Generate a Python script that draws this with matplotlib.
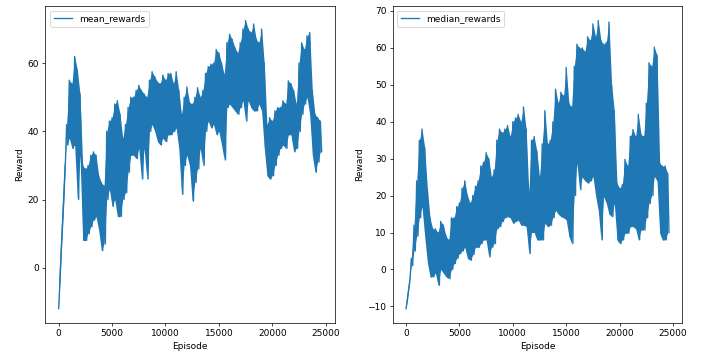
import matplotlib
matplotlib.use("Agg")
import matplotlib.pyplot as plt
import numpy as np

# values: "hi" at every 250 episodes, "lo" half a step later
step = 250

mean_hi = [-12, 5, 21, 42, 55, 54, 62, 58, 51, 30,
           29, 30, 33, 34, 33, 27, 25, 24, 40, 43,
           44, 48, 49, 45, 38, 42, 47, 50, 50, 52,
           53.5, 52, 51, 50, 55, 57.5, 56, 54.5, 54, 56.5,
           55, 57, 57, 54, 57.5, 52, 45, 50, 53, 48.5,
           48, 50, 52.8, 50, 52, 57, 59, 59.7, 60, 64,
           63, 60, 56.7, 66, 68.5, 67, 64.6, 63, 66, 70,
           72.5, 70, 69, 71.5, 67, 66, 70, 60, 42, 44,
           43, 46, 47, 47, 49, 48, 54.8, 54, 52, 48,
           60, 66, 64, 68, 69, 52, 45, 44, 43]
mean_lo = [-4, 13, 30, 36, 38, 35, 36, 20, 33, 8,
           8, 10, 12, 14, 15, 11, 5, 7, 20, 23,
           18, 20, 15, 15, 20, 22, 28, 33, 33, 32,
           35, 26, 35, 26, 40, 42, 40, 37, 36, 38,
           37, 39, 39, 40, 41, 35, 21.5, 30, 33, 30,
           19.5, 25, 29, 35, 30, 40, 43, 41, 42, 39,
           40, 36, 31.6, 47, 48, 47, 46, 45, 47, 49,
           43, 49, 47, 46, 46, 48, 46, 35, 27, 26,
           27, 30, 33, 35, 36, 35, 39, 39, 34, 35,
           40, 45, 48, 50, 45, 33, 28, 31, 34]

median_hi = [-10.6, -5.5, 3, 12, 24, 35, 38, 33, 22, 14,
             11, 11, 10, 13, 12, 9, 8, 14, 14, 17,
             18, 22, 24, 20, 18, 20, 22.5, 24, 28, 29,
             31.6, 30, 25, 27, 35, 38, 37, 38, 39, 36,
             40, 41, 42, 40, 44, 38, 21, 35, 36, 32,
             25, 34, 43, 34, 35, 40, 48.8, 45, 48, 47,
             54.7, 45, 44, 55, 61, 60, 60, 59, 63, 62,
             66.5, 63, 67.4, 62, 61, 61.5, 67, 50, 43, 23.4,
             22, 23, 29.8, 28, 36, 37.9, 36, 42, 36.6, 36,
             45, 56, 55, 60.2, 58, 28.8, 28, 28, 26]
median_lo = [-8.5, -3, 1, 5, 9, 14, 17, 9, 2, -2,
             -2, -1, -4.3, 0, -1, -2, -2.5, 0, 1.6, 3,
             4.3, 5, 6, 3, 2.5, 4, 6, 6, 7, 8,
             8, 3.4, 6, 7, 11, 11.6, 13, 14, 14.3, 14,
             12.5, 13, 13.4, 12, 12, 11.6, 4.3, 10, 10, 8,
             8, 8, 12.5, 11.6, 12, 14, 16, 15, 14.3, 14,
             13.4, 9, 7, 20, 28.8, 21.6, 25, 24, 23.4, 24,
             25.2, 20, 16, 8, 19.7, 18, 15, 14.3, 17.9, 8,
             7, 8, 9.8, 9.8, 11.6, 11.6, 11, 8, 10.7, 10.7,
             14, 17.9, 20, 25.2, 24, 9.8, 8, 8, 10]

blue = '#1f77b4'


def draw(ax, hi, lo, label):
    y = np.column_stack([hi, lo]).ravel()
    x = np.arange(len(y)) * step / 2
    # solid band between neighbouring readings, then the jagged trace on top
    ax.fill_between(x[::2], y[::2], y[1::2], color=blue, linewidth=0)
    ax.plot(x, y, color=blue, label=label)


fig = plt.figure(figsize=(704 / 65, 354 / 65), dpi=65)
ax1 = fig.add_axes([0.0646, 0.0876, 0.411, 0.895])
ax2 = fig.add_axes([0.558, 0.0876, 0.411, 0.895])

draw(ax1, mean_hi, mean_lo, 'mean_rewards')
draw(ax2, median_hi, median_lo, 'median_rewards')

for ax in (ax1, ax2):
    ax.set_xlabel('Episode')
    ax.set_ylabel('Reward')
    ax.legend(loc='upper left')
    ax.set_xticks([0, 5000, 10000, 15000, 20000, 25000])

plt.savefig('out.png', dpi=65)
